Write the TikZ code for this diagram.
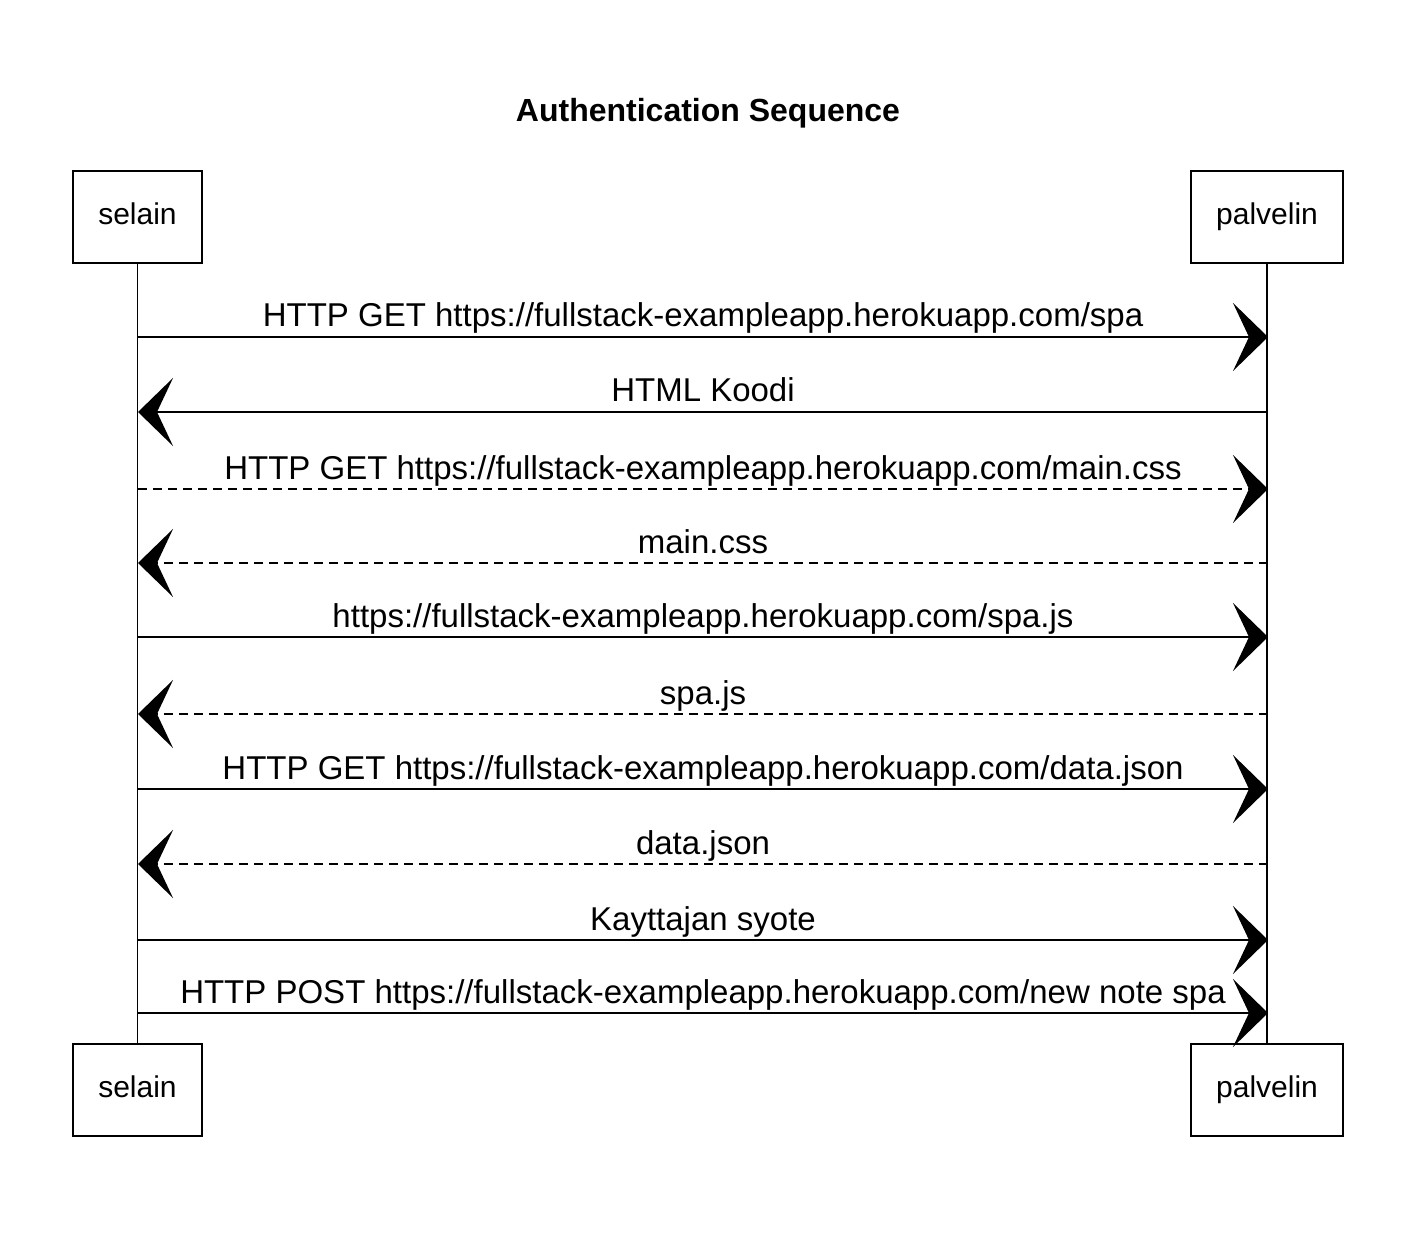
\documentclass[tikz,border=0pt]{standalone}
\usepackage{fontspec}
\setmainfont{Liberation Sans}
\usetikzlibrary{arrows.meta}

\tikzset{
  actor/.style={draw, line width=2.2pt, rectangle, inner sep=0pt,
    minimum height=92pt, text height=22pt, text depth=7pt,
    font=\fontsize{30}{36}\selectfont},
  lifeline/.style={line width=1.8pt},
  msg/.style={line width=2.6pt, -{Stealth[length=35pt,width=68pt,inset=16pt]}},
  reply/.style={msg, dash pattern=on 9pt off 6pt},
  lbl/.style={anchor=base, inner sep=0pt, font=\fontsize{33}{39}\selectfont},
}

\begin{document}
\begin{tikzpicture}[x=1pt, y=-1pt]
  \useasboundingbox (0,0) rectangle (1416,1238);

  % title
  \node[font=\fontsize{32}{38}\selectfont\bfseries, anchor=base] (title) at (708,122) {Authentication Sequence};

  % participants, top and bottom
  \node[actor, minimum width=129pt] (selTop) at (137.5,217) {selain};
  \node[actor, minimum width=152pt] (palTop) at (1267,217) {palvelin};
  \node[actor, minimum width=129pt] (selBot) at (137.5,1090) {selain};
  \node[actor, minimum width=152pt] (palBot) at (1267,1090) {palvelin};

  % lifelines
  \draw[lifeline] (selTop.south) -- (selBot.north);
  \draw[lifeline] (palTop.south) -- (palBot.north);

  % message end points on the lifelines
  \foreach \i/\y in {1/337, 2/412, 3/489, 4/563, 5/637, 6/714, 7/789, 8/864, 9/940, 10/1013} {
    \coordinate (s\i) at (138,\y);
    \coordinate (p\i) at (1268,\y);
  }

  % messages
  \draw[msg]   (s1) -- node[lbl, above=10pt, anchor=base] (m1) {HTTP GET https://fullstack-exampleapp.herokuapp.com/spa} (p1);
  \draw[msg]   (p2) -- node[lbl, above=10pt, anchor=base] (m2) {HTML Koodi} (s2);
  \draw[reply] (s3) -- node[lbl, above=10pt, anchor=base] (m3) {HTTP GET https://fullstack-exampleapp.herokuapp.com/main.css} (p3);
  \draw[reply] (p4) -- node[lbl, above=10pt, anchor=base] (m4) {main.css} (s4);
  \draw[msg]   (s5) -- node[lbl, above=10pt, anchor=base] (m5) {https://fullstack-exampleapp.herokuapp.com/spa.js} (p5);
  \draw[reply] (p6) -- node[lbl, above=10pt, anchor=base] (m6) {spa.js} (s6);
  \draw[msg]   (s7) -- node[lbl, above=10pt, anchor=base] (m7) {HTTP GET https://fullstack-exampleapp.herokuapp.com/data.json} (p7);
  \draw[reply] (p8) -- node[lbl, above=10pt, anchor=base] (m8) {data.json} (s8);
  \draw[msg]   (s9) -- node[lbl, above=10pt, anchor=base] (m9) {Kayttajan syote} (p9);
  \draw[msg]   (s10) -- node[lbl, above=10pt, anchor=base] (m10) {HTTP POST https://fullstack-exampleapp.herokuapp.com/new note spa} (p10);
\end{tikzpicture}
\end{document}
